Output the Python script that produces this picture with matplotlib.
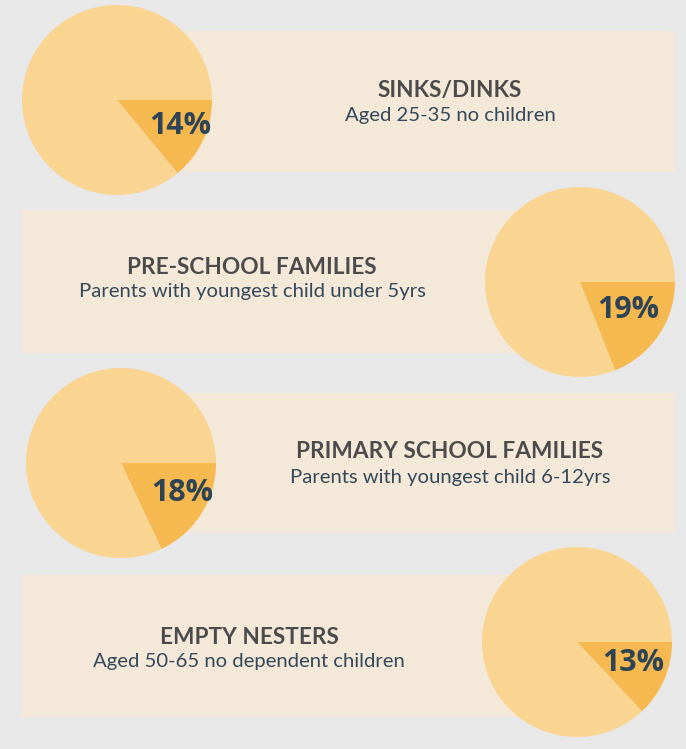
import matplotlib
matplotlib.use("Agg")
import matplotlib.pyplot as plt
from matplotlib.patches import Rectangle

# data
titles = ["SINKS/DINKS", "PRE-SCHOOL FAMILIES", "PRIMARY SCHOOL FAMILIES", "EMPTY NESTERS"]
subtitles = ["Aged 25-35 no children",
             "Parents with youngest child under 5yrs",
             "Parents with youngest child 6-12yrs",
             "Aged 50-65 no dependent children"]
shares = [14, 19, 18, 13]

# layout in pixels (y measured from top)
W, H = 686, 749
rects = [(185, 31, 675, 172), (22, 210, 560, 353), (187, 393, 675, 533), (22, 575, 560, 717)]
pie_centers = [(117, 100), (580, 282), (121, 463), (577, 642)]
pie_r = 95
title_pos = [(450, 91), (252, 267), (450, 452), (249, 637)]
sub_gap = 25
pct_pos = [(180, 126), (628, 310), (182, 493), (633, 663)]

BG = "#e8e8e8"
PANEL = "#f4e8d9"
LIGHT = "#fad491"
DARK = "#f6b94f"
TITLE_C = "#4b4b4b"
SUB_C = "#34495a"
PCT_C = "#2e4456"

fig = plt.figure(figsize=(W / 100, H / 100), dpi=100)
fig.patch.set_facecolor(BG)
ax = fig.add_axes([0, 0, 1, 1])
ax.set_facecolor(BG)

for i in range(4):
    x0, y0, x1, y1 = rects[i]
    ax.add_patch(Rectangle((x0, H - y1), x1 - x0, y1 - y0, facecolor=PANEL, edgecolor="none", zorder=1))

    cx, cy = pie_centers[i]
    ax.pie([shares[i], 100 - shares[i]], colors=[DARK, LIGHT], startangle=0, counterclock=False,
           center=(cx, H - cy), radius=pie_r, frame=True,
           wedgeprops=dict(linewidth=0, zorder=2))

    tx, ty = title_pos[i]
    ax.text(tx, H - ty, titles[i], ha="center", va="center", fontsize=16.3, family="Lato",
            fontweight="bold", color=TITLE_C, zorder=3)
    ax.text(tx, H - ty - sub_gap, subtitles[i], ha="center", va="center", fontsize=14.6,
            family="Lato", color=SUB_C, zorder=3)

    px, py = pct_pos[i]
    ax.text(px, H - py, f"{shares[i]}%", ha="center", va="center", fontsize=22,
            family="Open Sans", fontweight="bold", color=PCT_C, zorder=4)

ax.set_xlim(0, W)
ax.set_ylim(0, H)
ax.set_aspect("auto")
ax.axis("off")

fig.savefig("out.png", dpi=100, facecolor=BG)
